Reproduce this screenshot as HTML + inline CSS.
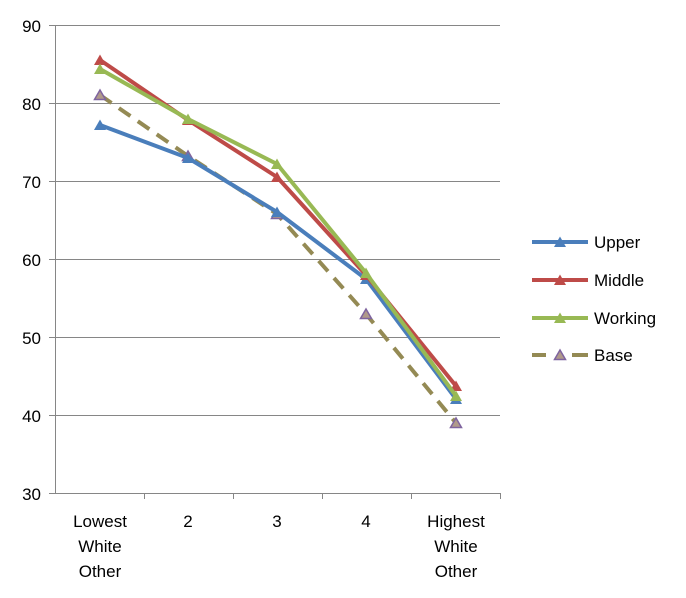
<!DOCTYPE html>
<html><head><style>body{margin:0;background:#fff}svg{display:block;font-family:"Liberation Sans",sans-serif}</style></head>
<body>
<svg width="686" height="598" viewBox="0 0 686 598">
<defs>
<marker id="mb" viewBox="-6 -6 12 12" markerWidth="12" markerHeight="12" markerUnits="userSpaceOnUse" refX="0" refY="0"><polygon points="0,-5.5 6,5 -6,5" fill="#4a7ebb"/></marker>
<marker id="mr" viewBox="-6 -6 12 12" markerWidth="12" markerHeight="12" markerUnits="userSpaceOnUse"><polygon points="0,-5.5 6,5 -6,5" fill="#be4b48"/></marker>
<marker id="mg" viewBox="-6 -6 12 12" markerWidth="12" markerHeight="12" markerUnits="userSpaceOnUse"><polygon points="0,-5.5 6,5 -6,5" fill="#98b954"/></marker>
<marker id="mp" viewBox="-7 -7 14 14" markerWidth="14" markerHeight="14" markerUnits="userSpaceOnUse"><polygon points="0,-5 5.5,4.5 -5.5,4.5" fill="#b09a8a" stroke="#7f649f" stroke-width="1.5"/></marker>
</defs>
<g stroke="#868686" stroke-width="1">
<line x1="49" y1="25.5" x2="500" y2="25.5"/>
<line x1="49" y1="103.5" x2="500" y2="103.5"/>
<line x1="49" y1="181.5" x2="500" y2="181.5"/>
<line x1="49" y1="259.5" x2="500" y2="259.5"/>
<line x1="49" y1="337.5" x2="500" y2="337.5"/>
<line x1="49" y1="415.5" x2="500" y2="415.5"/>
<line x1="49" y1="493.5" x2="500" y2="493.5"/>
<line x1="55.5" y1="25" x2="55.5" y2="493"/>
<line x1="144.5" y1="493" x2="144.5" y2="499"/>
<line x1="233.5" y1="493" x2="233.5" y2="499"/>
<line x1="322.5" y1="493" x2="322.5" y2="499"/>
<line x1="411.5" y1="493" x2="411.5" y2="499"/>
<line x1="500.5" y1="493" x2="500.5" y2="499"/>
</g>
<g font-size="17" fill="#000" text-anchor="end">
<text x="41" y="32">90</text><text x="41" y="110">80</text><text x="41" y="188">70</text>
<text x="41" y="266">60</text><text x="41" y="344">50</text><text x="41" y="422">40</text><text x="41" y="500">30</text>
</g>
<g font-size="17" fill="#000" text-anchor="middle">
<text x="100" y="527">Lowest</text><text x="100" y="552">White</text><text x="100" y="577">Other</text>
<text x="188" y="527">2</text><text x="277" y="527">3</text><text x="366" y="527">4</text>
<text x="456" y="527">Highest</text><text x="456" y="552">White</text><text x="456" y="577">Other</text>
</g>
<g fill="none" stroke-width="4" stroke-linejoin="round">
<polyline points="100,95 188,156 277,214 366,314 456,423" stroke="#948a54" stroke-dasharray="14,9" marker-start="url(#mp)" marker-mid="url(#mp)" marker-end="url(#mp)"/>
<polyline points="100,125 188,158 277,212 366,279 456,399" stroke="#4a7ebb" marker-start="url(#mb)" marker-mid="url(#mb)" marker-end="url(#mb)"/>
<polyline points="100,60 188,120 277,177 366,275 456,386" stroke="#be4b48" marker-start="url(#mr)" marker-mid="url(#mr)" marker-end="url(#mr)"/>
<polyline points="100,69 188,119 277,164 366,273 456,396" stroke="#98b954" marker-start="url(#mg)" marker-mid="url(#mg)" marker-end="url(#mg)"/>
</g>
<g stroke-width="4" fill="none">
<polyline points="532,242 560,242 588,242" stroke="#4a7ebb" marker-mid="url(#mb)"/>
<polyline points="532,280 560,280 588,280" stroke="#be4b48" marker-mid="url(#mr)"/>
<polyline points="532,318 560,318 588,318" stroke="#98b954" marker-mid="url(#mg)"/>
<line x1="532" y1="355" x2="546" y2="355" stroke="#948a54"/>
<line x1="572" y1="355" x2="588" y2="355" stroke="#948a54"/>
<polyline points="559,355 560,355 561,355" stroke="none" marker-mid="url(#mp)"/>
</g>
<g font-size="17" fill="#000">
<text x="594" y="248">Upper</text><text x="594" y="286">Middle</text><text x="594" y="324">Working</text><text x="594" y="361">Base</text>
</g>
</svg>
</body></html>
